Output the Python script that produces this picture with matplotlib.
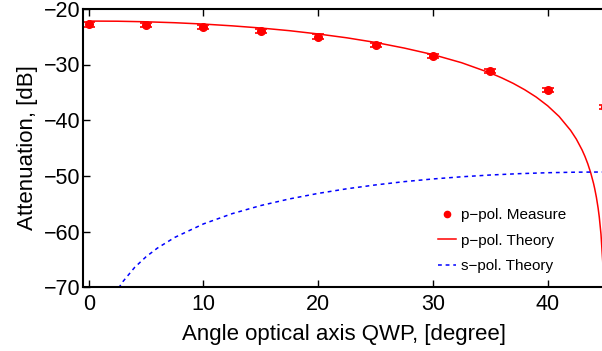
import matplotlib
matplotlib.use('Agg')
import matplotlib.pyplot as plt
from matplotlib.lines import Line2D

plt.rcParams['font.family'] = ['Liberation Sans', 'DejaVu Sans']

# measured p-pol points
angle_meas = [0, 5, 10, 15, 20, 25, 30, 35, 40, 45]
atten_meas = [-22.8, -22.9, -23.3, -24.0, -25.0, -26.5, -28.5, -31.2, -34.6, -37.6]
atten_err = [0.4, 0.4, 0.4, 0.4, 0.4, 0.35, 0.35, 0.4, 0.4, 0.4]

# p-pol theory curve
angle_p = [0, 2.5, 5, 7.5, 10, 12.5, 15, 17.5, 20, 22.5, 25, 27.5, 30, 32.5, 35,
           36, 37, 38, 39, 40, 41, 42, 42.5, 43, 43.25, 43.5, 43.75, 44, 44.1,
           44.25, 44.4, 44.5, 44.65, 44.8, 44.9]
atten_p = [-22.2, -22.23, -22.33, -22.5, -22.74, -23.06, -23.45, -23.93, -24.52,
           -25.21, -26.04, -27.05, -28.22, -29.68, -31.52, -32.4, -33.39, -34.53,
           -35.84, -37.41, -39.33, -41.82, -43.39, -45.33, -46.49, -47.83, -49.41,
           -51.34, -52.26, -53.84, -55.78, -57.36, -60.46, -65.3, -71.3]

# s-pol theory curve
angle_s = [2.6, 3, 4, 5, 6, 7.5, 10, 12.5, 15, 17.5, 20, 22.5, 25, 27.5, 30,
           32.5, 35, 37.5, 40, 42.5, 45]
atten_s = [-70.15, -68.92, -66.43, -64.51, -62.94, -61.04, -58.62, -56.78, -55.32,
           -54.13, -53.14, -52.31, -51.62, -51.03, -50.55, -50.16, -49.84, -49.6,
           -49.43, -49.33, -49.3]

xticks = [0, 10, 20, 30, 40]
yticks = [-70, -60, -50, -40, -30, -20]

fig = plt.figure(figsize=(6.02, 3.51), dpi=100)
ax = fig.add_axes([83 / 602, (351 - 287.3) / 351, (605 - 83) / 602, (287.3 - 8.8) / 351])

ax.errorbar(angle_meas, atten_meas, yerr=atten_err, fmt='o', color='red',
            markersize=5.5, capsize=4, elinewidth=1.2, capthick=1.2)
ax.plot(angle_p, atten_p, '-', color='red', lw=1.1)
ax.plot(angle_s, atten_s, '--', color='blue', lw=1.1, dashes=(2.5, 2.5))

ax.set_xlim(-0.5, 45)
ax.set_ylim(-70, -20)
ax.set_xticks(xticks)
ax.set_yticks(yticks)
ax.tick_params(direction='in', labelsize=15.5, length=5, width=1, top=True, right=False)
ax.tick_params(axis='x', pad=5)
ax.tick_params(axis='y', pad=2)
for s in ax.spines.values():
    s.set_linewidth(1.5)

ax.set_xlabel('Angle optical axis QWP, [degree]', fontsize=16, labelpad=6)
ax.set_ylabel('Attenuation, [dB]', fontsize=16, labelpad=4)

handles = [
    Line2D([], [], ls='none', marker='o', color='red', markersize=4.5),
    Line2D([], [], color='red', lw=1.1),
    Line2D([], [], color='blue', lw=1.1, ls='--', dashes=(2.5, 2.5)),
]
labels = ['p\u2212pol. Measure', 'p\u2212pol. Theory', 's\u2212pol. Theory']
ax.legend(handles, labels, loc='lower right', bbox_to_anchor=(0.953, 0.2),
          bbox_transform=fig.transFigure, frameon=False, fontsize=11,
          handlelength=1.2, handletextpad=0.3, labelspacing=0.75, borderpad=0)

fig.savefig('out.png', dpi=100)
